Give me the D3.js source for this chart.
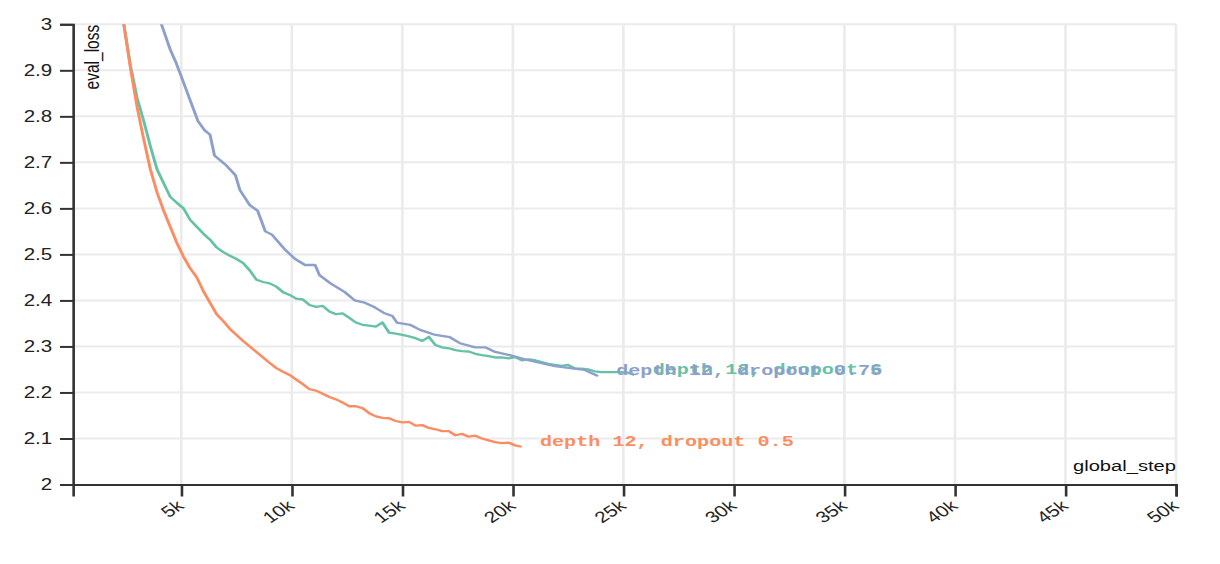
<!DOCTYPE html>
<html>
<head>
<meta charset="utf-8">
<script src="https://cdn.jsdelivr.net/npm/d3@7"></script>
<style>
  body { margin: 0; background: #fff; }
  svg { display: block; }
  .axis text { font-family: "Liberation Sans", Arial, Helvetica, sans-serif; font-size: 15.8px; fill: #222; }
  .axis path, .axis line { stroke: #333; stroke-width: 2; }
  .grid line { stroke: #ebebeb; stroke-width: 2; }
  .axis-title { font-family: "Liberation Sans", Arial, Helvetica, sans-serif; font-size: 15.5px; fill: #111; }
  .run-label { font-family: "Liberation Mono", "Courier New", monospace; font-weight: bold; font-size: 15.5px; }
</style>
</head>
<body>
<svg id="chart"></svg>
<script>
// eval_loss vs global_step for three runs
const greenName = "depth 12, dropout 6";
const greenSteps = [1800, 2100, 2400, 2700, 3000, 3300, 3600, 3900, 4200, 4500, 4800, 5100, 5400, 5700, 6000,
  6300, 6600, 6900, 7200, 7500, 7800, 8100, 8400, 8700, 9000, 9300, 9600, 9900, 10200, 10500, 10800, 11100,
  11400, 11700, 12000, 12300, 12600, 12900, 13200, 13500, 13800, 14100, 14400, 14700, 15000, 15300, 15600,
  15900, 16200, 16500, 16800, 17100, 17400, 17700, 18000, 18300, 18600, 18900, 19200, 19500, 19800, 20100,
  20400, 20700, 21000, 21300, 21600, 21900, 22200, 22500, 22800, 23100, 23400, 23700, 24000, 24300, 24600,
  24900, 25200, 25500];
const greenLoss = [3.19, 3.09, 3.00, 2.91, 2.84, 2.79, 2.735, 2.685, 2.655, 2.625, 2.612, 2.600, 2.575, 2.56, 2.545,
  2.532, 2.515, 2.505, 2.497, 2.49, 2.481, 2.465, 2.445, 2.44, 2.437, 2.43, 2.418, 2.412, 2.404, 2.402, 2.39, 2.386,
  2.388, 2.376, 2.37, 2.372, 2.362, 2.352, 2.347, 2.345, 2.343, 2.352, 2.33, 2.328, 2.325, 2.322, 2.318,
  2.312, 2.321, 2.303, 2.298, 2.296, 2.292, 2.29, 2.289, 2.284, 2.281, 2.279, 2.276, 2.276, 2.274, 2.277,
  2.27, 2.272, 2.27, 2.266, 2.262, 2.26, 2.258, 2.26, 2.252, 2.252, 2.25, 2.246, 2.244, 2.244, 2.244,
  2.244, 2.243, 2.238];

const orangeName = "depth 12, dropout 0.5";
const orangeSteps = [1800, 2100, 2400, 2700, 3000, 3300, 3600, 3900, 4200, 4500, 4800, 5100, 5400, 5700, 6000,
  6300, 6600, 6900, 7200, 7500, 7800, 8100, 8400, 8700, 9000, 9300, 9600, 9900, 10200, 10500, 10800, 11100,
  11400, 11700, 12000, 12300, 12600, 12900, 13200, 13500, 13800, 14100, 14400, 14700, 15000, 15300, 15600,
  15900, 16200, 16500, 16800, 17100, 17400, 17700, 18000, 18300, 18600, 18900, 19200, 19500, 19800, 20100,
  20400];
const orangeLoss = [3.19, 3.09, 3.00, 2.905, 2.82, 2.75, 2.685, 2.635, 2.595, 2.56, 2.525, 2.495, 2.47, 2.45, 2.42,
  2.395, 2.37, 2.355, 2.338, 2.325, 2.312, 2.300, 2.288, 2.276, 2.264, 2.253, 2.245, 2.238, 2.228, 2.218, 2.207, 2.204,
  2.197, 2.19, 2.185, 2.178, 2.17, 2.17, 2.166, 2.155, 2.148, 2.145, 2.144, 2.138, 2.135, 2.136, 2.128,
  2.129, 2.123, 2.12, 2.116, 2.116, 2.107, 2.11, 2.104, 2.106, 2.1, 2.096, 2.092, 2.09, 2.091, 2.085,
  2.082];

const blueName = "depth 12, dropout 0.75";
const blueSteps = [3700, 4100, 4500, 4750, 5050, 5400, 5750, 6050, 6300, 6500, 7000, 7450, 7650, 8100, 8450,
  8800, 9100, 9700, 10150, 10600, 11050, 11250, 11750, 12400, 12850, 13300, 13750, 14200, 14550, 14750,
  15350, 15800, 16500, 17150, 17600, 18300, 18750, 19200, 19850, 20550, 21250, 21900, 22600, 23250, 23850];
const blueLoss = [3.09, 3.0, 2.945, 2.918, 2.88, 2.835, 2.79, 2.77, 2.76, 2.715, 2.695, 2.672, 2.64, 2.607, 2.595,
  2.55, 2.543, 2.51, 2.49, 2.477, 2.477, 2.455, 2.437, 2.418, 2.40, 2.395, 2.385, 2.372, 2.366, 2.352,
  2.347, 2.336, 2.325, 2.32, 2.307, 2.298, 2.298, 2.288, 2.281, 2.272, 2.264, 2.257, 2.253, 2.249, 2.236];

const stepDomain = [100, 50000];
const lossDomain = [2, 3];

const series = [
  { name: greenName, color: "#66c2a5", steps: greenSteps, loss: greenLoss },
  { name: orangeName, color: "#fc8d62", steps: orangeSteps, loss: orangeLoss },
  { name: blueName, color: "#8da0cb", steps: blueSteps, loss: blueLoss }
];

const outW = 1220, outH = 564;
const stretch = 1.3; // the picture is drawn narrow, then widened
const vbWidth = outW / stretch;

const svg = d3.select("#chart")
  .attr("width", outW)
  .attr("height", outH)
  .attr("viewBox", `0 0 ${vbWidth} ${outH}`)
  .attr("preserveAspectRatio", "none");

const plotLeft = 73 / stretch, plotRight = 1176 / stretch, plotTop = 24.3, plotBottom = 484.5;

const x = d3.scaleLinear().domain(stepDomain).range([plotLeft, plotRight]);
const y = d3.scaleLinear().domain(lossDomain).range([plotBottom, plotTop]);

// grid
const grid = svg.append("g").attr("class", "grid");
grid.selectAll(".vx").data(x.ticks(10)).enter().append("line")
  .attr("x1", d => x(d)).attr("x2", d => x(d))
  .attr("y1", plotTop).attr("y2", plotBottom);
grid.selectAll(".hy").data(y.ticks(10).filter(d => d > lossDomain[0])).enter().append("line")
  .attr("x1", plotLeft).attr("x2", plotRight)
  .attr("y1", d => y(d)).attr("y2", d => y(d));

// lines, clipped to the plot area
svg.append("clipPath").attr("id", "plot-clip")
  .append("rect")
  .attr("x", plotLeft).attr("y", plotTop)
  .attr("width", plotRight - plotLeft).attr("height", plotBottom - plotTop);

const line = d3.line()
  .x(d => x(d.step))
  .y(d => y(d.loss));

const runs = svg.append("g").attr("clip-path", "url(#plot-clip)");
series.forEach(s => {
  const pts = s.steps.map((st, i) => ({ step: st, loss: s.loss[i] }));
  runs.append("path")
    .datum(pts)
    .attr("fill", "none")
    .attr("stroke", s.color)
    .attr("stroke-width", 2.3)
    .attr("stroke-linejoin", "round")
    .attr("d", line);
});

// run labels at the end of each line
series.forEach(s => {
  const n = s.steps.length - 1;
  svg.append("text")
    .attr("class", "run-label")
    .attr("x", x(s.steps[n]) + 14)
    .attr("y", y(s.loss[n]) - 0.5)
    .attr("fill", s.color)
    .text(s.name);
});

// axes
const xAxis = svg.append("g")
  .attr("class", "axis")
  .attr("transform", `translate(0,${plotBottom})`)
  .call(d3.axisBottom(x).ticks(10).tickFormat(d3.format("~s")).tickSize(12));
xAxis.selectAll(".tick text")
  .attr("x", 0).attr("y", 0).attr("dy", 0)
  .attr("text-anchor", "end")
  .attr("transform", "translate(2.5,23) rotate(-40)");

svg.append("g")
  .attr("class", "axis")
  .attr("transform", `translate(${plotLeft},0)`)
  .call(d3.axisLeft(y).ticks(10).tickFormat(d3.format("~g")).tickSize(10).tickPadding(6));

svg.append("text")
  .attr("class", "axis-title")
  .attr("x", plotRight)
  .attr("y", 471)
  .attr("text-anchor", "end")
  .text("global_step");

svg.append("text")
  .attr("class", "axis-title")
  .attr("transform", `translate(${98.5 / stretch},${plotTop + 0.5}) rotate(-90)`)
  .attr("text-anchor", "end")
  .text("eval_loss");
</script>
</body>
</html>
